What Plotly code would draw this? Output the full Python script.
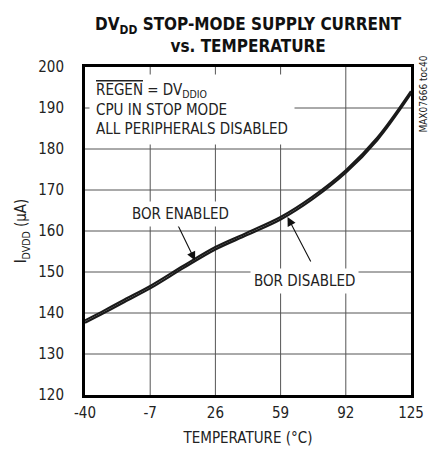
import plotly.graph_objects as go

temps = [-40, -30, -20, -7, 10, 26, 42, 59, 75, 92, 108, 125]
bor_disabled = [137.6, 140.1, 142.7, 146.0, 151.0, 155.5, 159.0, 162.8, 167.7, 174.2, 182.2, 193.5]
bor_enabled = [138.2, 140.7, 143.3, 146.6, 151.6, 156.1, 159.6, 163.4, 168.3, 174.8, 182.8, 194.1]
x_ticks = [-40, -7, 26, 59, 92, 125]
y_ticks = [120, 130, 140, 150, 160, 170, 180, 190, 200]

FONT = "Liberation Sans Narrow, DejaVu Sans Condensed, Arial Narrow, sans-serif"
GRID = "#555"

fig = go.Figure()
fig.add_trace(go.Scatter(x=temps, y=bor_disabled, mode="lines", line=dict(color="#1a1a1a", width=2.2, shape="spline"),
                         name="BOR DISABLED", showlegend=False))
fig.add_trace(go.Scatter(x=temps, y=bor_enabled, mode="lines", line=dict(color="#1a1a1a", width=2.2, shape="spline"),
                         name="BOR ENABLED", showlegend=False))

# grid lines at the interior tick values
for xv in x_ticks[1:-1]:
    fig.add_shape(type="line", xref="x", yref="y", x0=xv, x1=xv, y0=y_ticks[0], y1=y_ticks[-1],
                  line=dict(color=GRID, width=1), layer="below")
for yv in y_ticks[1:-1]:
    fig.add_shape(type="line", xref="x", yref="y", x0=x_ticks[0], x1=x_ticks[-1], y0=yv, y1=yv,
                  line=dict(color=GRID, width=1), layer="below")

fig.update_layout(
    width=429, height=449,
    margin=dict(l=77, r=26, t=59, b=60),
    paper_bgcolor="white", plot_bgcolor="white",
    font=dict(family=FONT, size=15, color="#222"),
    xaxis=dict(range=[-40, 125], tickmode="array", tickvals=x_ticks, ticktext=[str(v) for v in x_ticks],
               showgrid=False, zeroline=False,
               showline=True, linecolor="black", linewidth=3, mirror=True,
               ticks="outside", ticklen=2, tickcolor="white",
               title=dict(text="TEMPERATURE (°C)", standoff=12, font=dict(size=15))),
    yaxis=dict(range=[120, 200], tickmode="array", tickvals=y_ticks,
               showgrid=False, zeroline=False,
               showline=True, linecolor="black", linewidth=3, mirror=True,
               ticks="outside", ticklen=15, tickcolor="white",
               title=dict(text="I<sub>DVDD</sub> (µA)", standoff=8, font=dict(size=15))),
)

fig.add_annotation(xref="paper", yref="paper", x=0.5, y=1.168, xanchor="center", yanchor="top",
                   text="<b>DV<sub>DD</sub> STOP-MODE SUPPLY CURRENT<br>vs. TEMPERATURE</b>",
                   showarrow=False, font=dict(family=FONT, size=17, color="#111"))

fig.add_annotation(xref="paper", yref="paper", x=0.0, y=1.0, xanchor="left", yanchor="top",
                   xshift=4, yshift=-7,
                   text="<span style='text-decoration:overline'>REGEN</span> = DV<sub>DDIO</sub><br>CPU IN STOP MODE<br>ALL PERIPHERALS DISABLED",
                   align="left", showarrow=False, bgcolor="white", borderpad=6,
                   font=dict(size=15, color="#222"))

fig.add_annotation(x=15.7, y=152.8, ax=-18, ay=-37, text="", showarrow=True,
                   arrowhead=2, arrowsize=1.6, arrowwidth=1.1, arrowcolor="#111")
fig.add_annotation(x=62.5, y=163.4, ax=24, ay=46, text="", showarrow=True,
                   arrowhead=2, arrowsize=1.6, arrowwidth=1.1, arrowcolor="#111")

fig.add_annotation(x=8.5, y=164.2, text="BOR ENABLED", showarrow=False, bgcolor="white",
                   borderpad=3, font=dict(size=15, color="#222"))
fig.add_annotation(x=71, y=147.8, text="BOR DISABLED", showarrow=False, bgcolor="white",
                   borderpad=3, font=dict(size=15, color="#222"))

fig.add_annotation(xref="paper", yref="paper", x=1.0, y=0.916, xanchor="center", yanchor="middle",
                   xshift=13, text="MAX07666 toc40", textangle=-90, showarrow=False,
                   font=dict(size=10, color="#222"))

fig.write_html("out.html")
